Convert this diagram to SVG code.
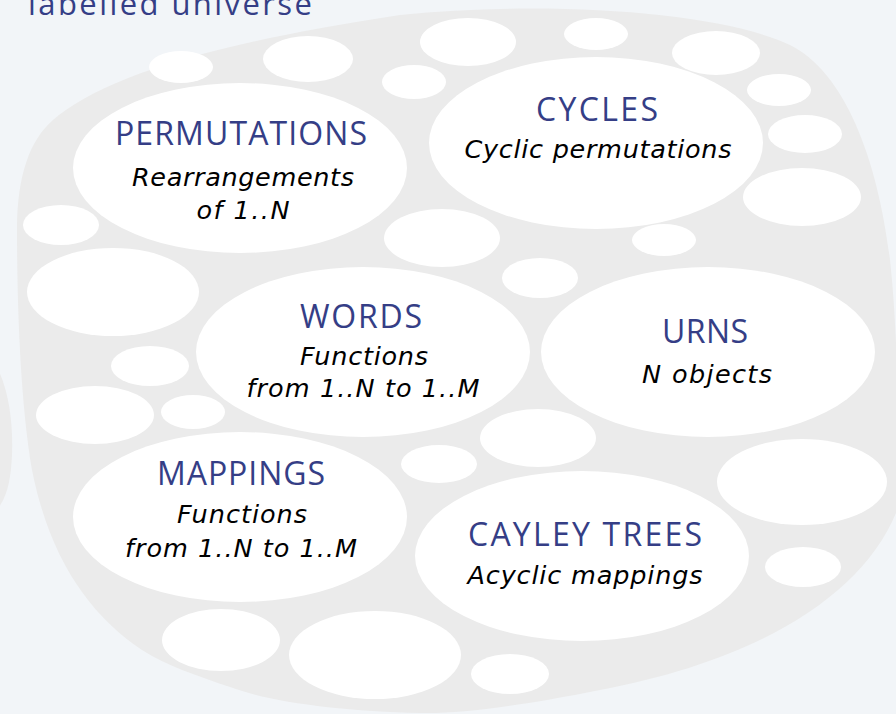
<svg xmlns="http://www.w3.org/2000/svg" width="896" height="714" viewBox="0 0 896 714">
<style>
.bg{fill:#f2f5f8}
.blob{fill:#ebebeb}
.w{fill:#ffffff}
.t{font-family:"Open Sans","Noto Sans","DejaVu Sans",sans-serif;font-size:32px;fill:#353e86;text-anchor:middle}
.s{font-family:"DejaVu Sans","Open Sans",sans-serif;font-size:25.5px;font-style:italic;fill:#000000;text-anchor:middle}
.title{font-family:"Open Sans","Noto Sans","DejaVu Sans",sans-serif;font-size:31px;fill:#353e86}
</style>
<rect class="bg" x="0" y="0" width="896" height="714"/>
<text class="title" x="28" y="15" textLength="284" lengthAdjust="spacing">labelled universe</text>
<path class="blob" d="M -60,330 C 0,330 14,400 12,455 C 10,500 0,525 -60,540 Z"/>
<path class="blob" d="M 17,230 C 17,175 30,140 53,120 C 100,80 200,45 400,15 C 550,0 720,12 790,45 C 845,72 878,160 890,260 C 898,330 900,450 896,513 C 860,600 750,662 600,690 C 520,706 460,714 421,713 C 340,711 270,702 230,687 C 200,677 165,665 142,650 C 90,615 50,560 32,470 C 20,400 17,300 17,230 Z"/>
<g id="bubbles">
<ellipse class="w" cx="181" cy="67" rx="32" ry="16"/>
<ellipse class="w" cx="308" cy="59" rx="45" ry="23"/>
<ellipse class="w" cx="414" cy="82" rx="32" ry="17"/>
<ellipse class="w" cx="468" cy="42" rx="48" ry="24"/>
<ellipse class="w" cx="596" cy="34" rx="32" ry="16"/>
<ellipse class="w" cx="716" cy="53" rx="44" ry="22"/>
<ellipse class="w" cx="779" cy="90" rx="32" ry="16"/>
<ellipse class="w" cx="805" cy="134" rx="37" ry="19"/>
<ellipse class="w" cx="802" cy="197" rx="59" ry="29"/>
<ellipse class="w" cx="664" cy="240" rx="32" ry="16"/>
<ellipse class="w" cx="442" cy="238" rx="58" ry="29"/>
<ellipse class="w" cx="540" cy="278" rx="38" ry="20"/>
<ellipse class="w" cx="538" cy="438" rx="58" ry="29"/>
<ellipse class="w" cx="439" cy="464" rx="38" ry="19"/>
<ellipse class="w" cx="61" cy="225" rx="38" ry="20"/>
<ellipse class="w" cx="113" cy="292" rx="86" ry="44"/>
<ellipse class="w" cx="150" cy="366" rx="39" ry="20"/>
<ellipse class="w" cx="95" cy="415" rx="59" ry="29"/>
<ellipse class="w" cx="193" cy="412" rx="32" ry="17"/>
<ellipse class="w" cx="802" cy="482" rx="85" ry="43"/>
<ellipse class="w" cx="803" cy="567" rx="38" ry="20"/>
<ellipse class="w" cx="221" cy="640" rx="59" ry="31"/>
<ellipse class="w" cx="375" cy="655" rx="86" ry="44"/>
<ellipse class="w" cx="510" cy="674" rx="39" ry="20"/>
</g>
<g id="connectors"/>
<g id="permutations">
<ellipse class="w" cx="240" cy="168" rx="167" ry="85"/>
<text class="t" x="241" y="145" textLength="252" lengthAdjust="spacing">PERMUTATIONS</text>
<text class="s" x="243" y="186" textLength="222" lengthAdjust="spacing">Rearrangements</text>
<text class="s" x="243" y="219" textLength="93" lengthAdjust="spacing">of 1..N</text>
</g>
<g id="cycles">
<ellipse class="w" cx="596" cy="143" rx="167" ry="86"/>
<text class="t" x="597" y="121" textLength="122" lengthAdjust="spacing">CYCLES</text>
<text class="s" x="598" y="158" textLength="267" lengthAdjust="spacing">Cyclic permutations</text>
</g>
<g id="words">
<ellipse class="w" cx="363" cy="352" rx="167" ry="85"/>
<text class="t" x="361" y="328" textLength="122" lengthAdjust="spacing">WORDS</text>
<text class="s" x="364" y="365" textLength="128" lengthAdjust="spacing">Functions</text>
<text class="s" x="363" y="397" textLength="233" lengthAdjust="spacing">from 1..N to 1..M</text>
</g>
<g id="urns">
<ellipse class="w" cx="708" cy="352" rx="167" ry="85"/>
<text class="t" x="705" y="343" textLength="86" lengthAdjust="spacing">URNS</text>
<text class="s" x="707" y="383" textLength="130" lengthAdjust="spacing">N objects</text>
</g>
<g id="mappings">
<ellipse class="w" cx="240" cy="517" rx="167" ry="85"/>
<text class="t" x="241" y="485" textLength="168" lengthAdjust="spacing">MAPPINGS</text>
<text class="s" x="242" y="523" textLength="130" lengthAdjust="spacing">Functions</text>
<text class="s" x="241" y="557" textLength="232" lengthAdjust="spacing">from 1..N to 1..M</text>
</g>
<g id="cayley-trees">
<ellipse class="w" cx="582" cy="556" rx="167" ry="85"/>
<text class="t" x="585" y="546" textLength="234" lengthAdjust="spacing">CAYLEY TREES</text>
<text class="s" x="585" y="584" textLength="235" lengthAdjust="spacing">Acyclic mappings</text>
</g>
</svg>
